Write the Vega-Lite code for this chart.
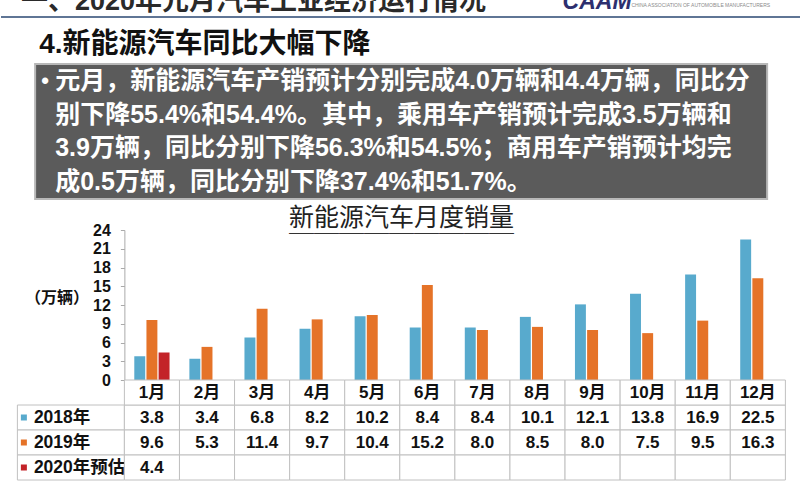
{
  "$schema": "https://vega.github.io/schema/vega-lite/v6.json",
  "background": "white",
  "padding": 0,
  "spacing": 12,
  "center": true,
  "config": {
    "view": {"stroke": null},
    "font": "'Liberation Sans', 'Noto Sans CJK SC', sans-serif"
  },
  "datasets": {
    "banner": [
      {"part": "title", "text": "一、2020年元月汽车工业经济运行情况"},
      {"part": "logo", "text": "CAAM"},
      {"part": "org", "text": "CHINA ASSOCIATION OF AUTOMOBILE MANUFACTURERS"}
    ],
    "notes": [
      {"line": 1, "text": "元月，新能源汽车产销预计分别完成4.0万辆和4.4万辆，同比分"},
      {"line": 2, "text": "别下降55.4%和54.4%。其中，乘用车产销预计完成3.5万辆和"},
      {"line": 3, "text": "3.9万辆，同比分别下降56.3%和54.5%；商用车产销预计均完"},
      {"line": 4, "text": "成0.5万辆，同比分别下降37.4%和51.7%。"}
    ],
    "sales": [
      {"month": "1月", "series": "2018年", "value": 3.8},
      {"month": "2月", "series": "2018年", "value": 3.4},
      {"month": "3月", "series": "2018年", "value": 6.8},
      {"month": "4月", "series": "2018年", "value": 8.2},
      {"month": "5月", "series": "2018年", "value": 10.2},
      {"month": "6月", "series": "2018年", "value": 8.4},
      {"month": "7月", "series": "2018年", "value": 8.4},
      {"month": "8月", "series": "2018年", "value": 10.1},
      {"month": "9月", "series": "2018年", "value": 12.1},
      {"month": "10月", "series": "2018年", "value": 13.8},
      {"month": "11月", "series": "2018年", "value": 16.9},
      {"month": "12月", "series": "2018年", "value": 22.5},
      {"month": "1月", "series": "2019年", "value": 9.6},
      {"month": "2月", "series": "2019年", "value": 5.3},
      {"month": "3月", "series": "2019年", "value": 11.4},
      {"month": "4月", "series": "2019年", "value": 9.7},
      {"month": "5月", "series": "2019年", "value": 10.4},
      {"month": "6月", "series": "2019年", "value": 15.2},
      {"month": "7月", "series": "2019年", "value": 8.0},
      {"month": "8月", "series": "2019年", "value": 8.5},
      {"month": "9月", "series": "2019年", "value": 8.0},
      {"month": "10月", "series": "2019年", "value": 7.5},
      {"month": "11月", "series": "2019年", "value": 9.5},
      {"month": "12月", "series": "2019年", "value": 16.3},
      {"month": "1月", "series": "2020年预估", "value": 4.4},
      {"month": "2月", "series": "2020年预估", "value": null},
      {"month": "3月", "series": "2020年预估", "value": null},
      {"month": "4月", "series": "2020年预估", "value": null},
      {"month": "5月", "series": "2020年预估", "value": null},
      {"month": "6月", "series": "2020年预估", "value": null},
      {"month": "7月", "series": "2020年预估", "value": null},
      {"month": "8月", "series": "2020年预估", "value": null},
      {"month": "9月", "series": "2020年预估", "value": null},
      {"month": "10月", "series": "2020年预估", "value": null},
      {"month": "11月", "series": "2020年预估", "value": null},
      {"month": "12月", "series": "2020年预估", "value": null}
    ]
  },
  "vconcat": [
    {
      "width": 800,
      "height": 17,
      "data": {"name": "banner"},
      "layer": [
        {
          "mark": {"type": "rule", "color": "#5f7595", "strokeWidth": 2},
          "encoding": {
            "y": {"datum": 0, "type": "quantitative", "scale": {"domain": [0, 1]}, "axis": null}
          }
        },
        {
          "transform": [{"filter": "datum.part == 'title'"}],
          "mark": {"type": "text", "clip": true, "align": "left", "baseline": "middle", "dy": 2, "fontSize": 27, "fontWeight": "bold", "color": "#2a2a2a"},
          "encoding": {
            "x": {"datum": 0.025, "type": "quantitative", "scale": {"domain": [0, 1]}, "axis": null},
            "y": {"datum": 1, "type": "quantitative", "scale": {"domain": [0, 1]}, "axis": null},
            "text": {"field": "text"}
          }
        },
        {
          "transform": [{"filter": "datum.part == 'logo'"}],
          "mark": {"type": "text", "clip": true, "align": "left", "baseline": "middle", "dy": 2, "fontSize": 23, "fontWeight": "bold", "fontStyle": "italic", "color": "#2d2f6e"},
          "encoding": {
            "x": {"datum": 0.702, "type": "quantitative", "scale": {"domain": [0, 1]}, "axis": null},
            "y": {"datum": 1, "type": "quantitative", "scale": {"domain": [0, 1]}, "axis": null},
            "text": {"field": "text"}
          }
        },
        {
          "transform": [{"filter": "datum.part == 'org'"}],
          "mark": {"type": "text", "clip": true, "align": "left", "baseline": "middle", "dy": 5, "fontSize": 5, "color": "#8a8a8a"},
          "encoding": {
            "x": {"datum": 0.788, "type": "quantitative", "scale": {"domain": [0, 1]}, "axis": null},
            "y": {"datum": 1, "type": "quantitative", "scale": {"domain": [0, 1]}, "axis": null},
            "text": {"field": "text"}
          }
        }
      ]
    },
    {
      "spacing": 6,
      "center": true,
      "vconcat": [
        {
          "width": 732,
          "height": 135,
          "view": {"fill": "#5b5b5b", "stroke": "#b8b8b8", "strokeWidth": 2},
          "title": {"text": "4.新能源汽车同比大幅下降", "anchor": "start", "fontSize": 28, "fontWeight": "bold", "color": "#111111", "offset": 5, "dx": 4},
          "data": {"name": "notes"},
          "layer": [
            {
              "mark": {"type": "text", "align": "left", "baseline": "middle", "dx": 20, "fontSize": 25, "fontWeight": "bold", "color": "white"},
              "encoding": {
                "x": {"datum": 0, "type": "quantitative", "scale": {"domain": [0, 1]}, "axis": null},
                "y": {"field": "line", "type": "ordinal", "axis": null},
                "text": {"field": "text"}
              }
            },
            {
              "transform": [{"filter": "datum.line == 1"}],
              "mark": {"type": "text", "align": "left", "baseline": "middle", "dx": 6, "fontSize": 22, "fontWeight": "bold", "color": "white"},
              "encoding": {
                "x": {"datum": 0, "type": "quantitative", "scale": {"domain": [0, 1]}, "axis": null},
                "y": {"field": "line", "type": "ordinal", "axis": null},
                "text": {"value": "•"}
              }
            }
          ]
        },
        {
          "title": {
            "text": "新能源汽车月度销量",
            "subtitle": "＿＿＿＿＿＿＿＿＿",
            "anchor": "middle",
            "fontSize": 25,
            "fontWeight": "normal",
            "color": "#222222",
            "subtitleFontSize": 25,
            "subtitleColor": "#333333",
            "subtitlePadding": -20,
            "offset": -14
          },
          "columns": 2,
          "bounds": "flush",
          "spacing": 0,
          "concat": [
            {
              "width": 107,
              "height": 150,
              "data": {"values": [{}]},
              "mark": {"type": "text"}
            },
            {
              "width": 661,
              "height": 150,
              "data": {"name": "sales"},
              "mark": {"type": "bar"},
              "encoding": {
                "x": {
                  "field": "month", "type": "ordinal",
                  "sort": ["1月", "2月", "3月", "4月", "5月", "6月", "7月", "8月", "9月", "10月", "11月", "12月"],
                  "scale": {"paddingInner": 0.36, "paddingOuter": 0.18},
                  "axis": null
                },
                "xOffset": {
                  "field": "series", "type": "nominal",
                  "sort": ["2018年", "2019年", "2020年预估"],
                  "scale": {"paddingInner": 0.1}
                },
                "y": {
                  "field": "value", "type": "quantitative",
                  "scale": {"domain": [0, 24], "nice": false},
                  "axis": {
                    "values": [0, 3, 6, 9, 12, 15, 18, 21, 24],
                    "grid": false,
                    "labelFontSize": 16,
                    "labelFontWeight": "bold",
                    "labelColor": "#111111",
                    "labelPadding": 10,
                    "tickSize": 4,
                    "tickColor": "#aaaaaa",
                    "domainColor": "#aaaaaa",
                    "title": "（万辆）",
                    "titleAngle": 0,
                    "titleX": -68,
                    "titleY": 67,
                    "titleAlign": "center",
                    "titleBaseline": "middle",
                    "titleFontSize": 16,
                    "titleFontWeight": "bold",
                    "titleColor": "#111111"
                  }
                },
                "color": {
                  "field": "series", "type": "nominal",
                  "scale": {"domain": ["2018年", "2019年", "2020年预估"], "range": ["#58aacd", "#e57328", "#c32328"]},
                  "legend": null
                }
              }
            },
            {
              "width": 107,
              "height": 100,
              "data": {"name": "sales"},
              "transform": [{"filter": "datum.month == '1月'"}],
              "mark": {"type": "rect", "fill": "white", "stroke": "#c0c0c0", "strokeWidth": 1},
              "encoding": {
                "y": {
                  "field": "series", "type": "nominal",
                  "scale": {"domain": ["月份", "2018年", "2019年", "2020年预估"], "paddingInner": 0, "paddingOuter": 0},
                  "axis": {
                    "title": null,
                    "domain": false,
                    "offset": -3,
                    "tickSize": -6,
                    "tickWidth": 6,
                    "tickCap": "butt",
                    "tickColor": {
                      "condition": [
                        {"test": "datum.value === '2018年'", "value": "#58aacd"},
                        {"test": "datum.value === '2019年'", "value": "#e57328"},
                        {"test": "datum.value === '2020年预估'", "value": "#c32328"}
                      ],
                      "value": "transparent"
                    },
                    "labelAlign": "left",
                    "labelPadding": -7,
                    "labelFontSize": 17.5,
                    "labelFontWeight": "bold",
                    "labelColor": "#111111",
                    "labelExpr": "datum.value == '月份' ? '' : datum.value",
                    "zindex": 1
                  }
                }
              }
            },
            {
              "width": 661,
              "height": 100,
              "data": {"name": "sales"},
              "encoding": {
                "x": {
                  "field": "month", "type": "ordinal",
                  "sort": ["1月", "2月", "3月", "4月", "5月", "6月", "7月", "8月", "9月", "10月", "11月", "12月"],
                  "scale": {"paddingInner": 0, "paddingOuter": 0},
                  "axis": null
                }
              },
              "layer": [
                {
                  "mark": {"type": "rect", "fill": "white", "stroke": "#c0c0c0", "strokeWidth": 1},
                  "encoding": {
                    "y": {"field": "series", "type": "nominal", "scale": {"domain": ["月份", "2018年", "2019年", "2020年预估"], "paddingInner": 0, "paddingOuter": 0}, "axis": null}
                  }
                },
                {
                  "transform": [{"filter": "datum.series == '2018年'"}],
                  "mark": {"type": "rect", "fill": "white", "stroke": "#c0c0c0", "strokeWidth": 1},
                  "encoding": {
                    "y": {"datum": "月份", "type": "nominal"}
                  }
                },
                {
                  "transform": [{"filter": "isValid(datum.value)"}],
                  "mark": {"type": "text", "fontSize": 17, "fontWeight": "bold", "color": "#111111"},
                  "encoding": {
                    "y": {"field": "series", "type": "nominal"},
                    "text": {"field": "value", "type": "quantitative", "format": ".1f"}
                  }
                },
                {
                  "transform": [{"filter": "datum.series == '2018年'"}],
                  "mark": {"type": "text", "fontSize": 17, "fontWeight": "bold", "color": "#111111"},
                  "encoding": {
                    "y": {"datum": "月份", "type": "nominal"},
                    "text": {"field": "month"}
                  }
                }
              ]
            }
          ]
        }
      ]
    }
  ]
}
